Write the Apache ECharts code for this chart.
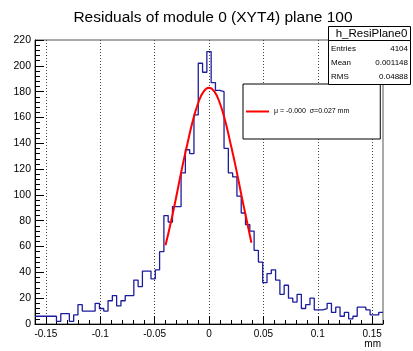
<!DOCTYPE html>
<html>
<head>
<meta charset="utf-8">
<script src="https://cdn.jsdelivr.net/npm/echarts@6/dist/echarts.min.js"></script>
<style>
  html, body { margin: 0; padding: 0; background: #fff; }
  #chart { width: 413px; height: 351px; }
</style>
</head>
<body>
<div id="chart"></div>
<script>
// histogram range and bin contents (81 bins)
const histLow = -0.16;
const histHigh = 0.16;
const counts = [
  6, 6, 6, 6, 6, 2, 8, 8, 2, 7,
  15, 10, 10, 10, 16, 12, 10, 18, 22, 14,
  18, 22, 22, 34, 29, 41, 41, 35, 42, 56,
  84, 79, 91, 91, 117, 135, 132, 162, 202, 195,
  211, 187, 181, 180, 136, 117, 114, 99, 86, 77,
  72, 57, 48, 32, 39, 42, 34, 23, 30, 20,
  17, 23, 12, 15, 20, 11, 11, 12, 16, 9,
  13, 6, 9, 4, 6, 13, 13, 11, 7, 7,
  9
];

// gaussian fit curve
const fitX = [-0.04, -0.035, -0.03, -0.025, -0.02, -0.015, -0.01, -0.005, 0,
              0.005, 0.01, 0.015, 0.02, 0.025, 0.03, 0.035, 0.039];
const fitY = [61, 79, 99, 120, 139, 157, 171, 180, 183,
              180, 171, 157, 139, 120, 99, 79, 63];

const xTicks = [-0.15, -0.1, -0.05, 0, 0.05, 0.1, 0.15];
const fitLabel = 'μ = -0.000  σ=0.027 mm';
const histName = 'h_ResiPlane0';
const statNames = ['Entries', 'Mean', 'RMS'];
const statValues = ['4104', '0.001148', '0.04888'];

const FONT = 'Liberation Sans';

const binWidth = (histHigh - histLow) / counts.length;
const histData = counts.map((c, i) => [histLow + i * binWidth, c]);
histData.push([histHigh, counts[counts.length - 1]]);

const chart = echarts.init(document.getElementById('chart'), null, { renderer: 'canvas' });

// stats box (ROOT TPaveStats)
const statY = [49, 63, 77];
const statsGraphics = [
  { type: 'rect', z: 100, shape: { x: 328.5, y: 26.5, width: 82, height: 14 },
    style: { fill: '#fff', stroke: '#000', lineWidth: 1 } },
  { type: 'rect', z: 100, shape: { x: 328.5, y: 40.5, width: 82, height: 44 },
    style: { fill: '#fff', stroke: '#000', lineWidth: 1 } },
  { type: 'text', z: 101, x: 371.5, y: 33.5,
    style: { text: histName, font: '11.5px ' + FONT, fill: '#000', align: 'center', verticalAlign: 'middle' } }
];
statNames.forEach((n, i) => {
  statsGraphics.push({ type: 'text', z: 101, x: 331, y: statY[i],
    style: { text: n, font: '8px ' + FONT, fill: '#000', align: 'left', verticalAlign: 'middle' } });
  statsGraphics.push({ type: 'text', z: 101, x: 408, y: statY[i],
    style: { text: statValues[i], font: '8px ' + FONT, fill: '#000', align: 'right', verticalAlign: 'middle' } });
});

chart.setOption({
  animation: false,
  backgroundColor: '#fff',
  textStyle: { fontFamily: FONT },
  title: {
    text: 'Residuals of module 0 (XYT4) plane 100',
    left: 208,
    top: 5,
    textAlign: 'center',
    textStyle: { fontFamily: FONT, fontSize: 15.5, fontWeight: 'normal', color: '#000' }
  },
  legend: {
    data: [fitLabel],
    left: 243,
    top: 84,
    orient: 'vertical',
    icon: 'rect',
    itemWidth: 23,
    itemHeight: 2,
    itemGap: 0,
    padding: [24, 31, 24, 3],
    borderColor: '#000',
    borderWidth: 1,
    backgroundColor: '#fff',
    textStyle: { fontFamily: FONT, fontSize: 7, color: '#000' }
  },
  grid: {
    left: 35, right: 30, top: 40, bottom: 27,
    show: true, borderColor: '#555', borderWidth: 1, backgroundColor: 'transparent'
  },
  xAxis: [
    {
      type: 'value', min: histLow, max: histHigh,
      position: 'bottom',
      name: 'mm', nameLocation: 'end', nameGap: 0,
      nameTextStyle: { fontFamily: FONT, fontSize: 10, color: '#000', align: 'right', verticalAlign: 'top', padding: [15, 2, 0, 0] },
      axisLine: { show: true, onZero: false, lineStyle: { color: '#000', width: 1 } },
      axisTick: { show: true, inside: true, length: 8, customValues: xTicks, lineStyle: { color: '#000' } },
      axisLabel: { show: true, customValues: xTicks, margin: 5, fontSize: 10, color: '#000', fontFamily: FONT,
        formatter: v => String(+(+v).toFixed(2)) },
      splitLine: { show: true, lineStyle: { color: '#444', type: [1, 2], width: 1 } }
    },
    {
      type: 'value', min: histLow, max: histHigh, interval: 0.01,
      position: 'bottom', offset: 0,
      axisLine: { show: false, onZero: false },
      axisTick: { show: true, inside: true, length: 4, lineStyle: { color: '#000' } },
      axisLabel: { show: false },
      splitLine: { show: false }
    }
  ],
  yAxis: {
    type: 'value', min: 0, max: 220, interval: 20,
    position: 'left',
    axisLine: { show: true, onZero: false, lineStyle: { color: '#000', width: 1 } },
    axisTick: { show: true, inside: true, length: 9, lineStyle: { color: '#000' } },
    minorTick: { show: true, splitNumber: 5, length: 5, lineStyle: { color: '#000' } },
    axisLabel: { margin: 4, fontSize: 10.5, color: '#000', fontFamily: FONT },
    splitLine: { show: false }
  },
  series: [
    {
      name: histName,
      type: 'line',
      step: 'end',
      xAxisIndex: 0,
      data: histData,
      symbol: 'none',
      lineStyle: { color: '#1c1c9e', width: 1.3 },
      z: 2
    },
    {
      name: fitLabel,
      type: 'line',
      smooth: true,
      xAxisIndex: 0,
      data: fitX.map((x, i) => [x, fitY[i]]),
      symbol: 'none',
      itemStyle: { color: '#ff0000' },
      lineStyle: { color: '#ff0000', width: 2 },
      z: 3
    }
  ],
  graphic: statsGraphics
});
</script>
</body>
</html>
